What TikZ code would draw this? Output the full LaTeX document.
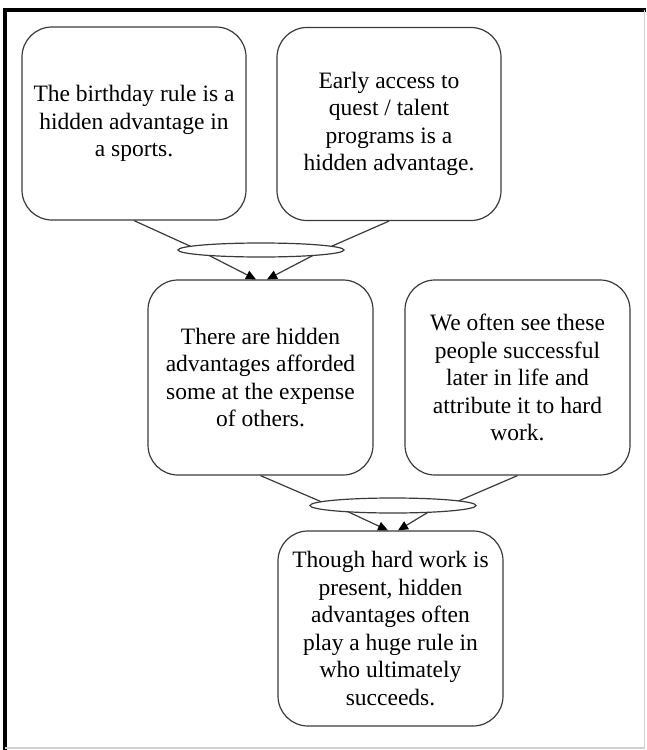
\documentclass[tikz,border=0pt]{standalone}
\usepackage{fontspec}
\setmainfont{Liberation Serif}
\usetikzlibrary{arrows.meta,shapes.geometric,calc}
\definecolor{linegray}{HTML}{3A3A3A}
\definecolor{framegray}{HTML}{D0D0D0}
\begin{document}
\begin{tikzpicture}[x=1pt,y=-1pt,
  card/.style={draw=linegray, line width=1.2pt, rounded corners=30pt,
    minimum width=224pt, minimum height=193pt, align=center, inner sep=0pt,
    font=\fontsize{23.5}{27.5}\selectfont},
  joint/.style={ellipse, draw=linegray, line width=1.2pt, minimum width=166pt,
    minimum height=14pt, inner sep=0pt, outer sep=0pt},
  link/.style={draw=linegray, line width=1.2pt},
  arr/.style={link, -{Triangle[length=10pt,width=9pt,fill=black,color=black]}}]
\useasboundingbox (0,0) rectangle (646,750);
% frame
\draw[line width=4pt, black] (5,750) -- (5,10) -- (646,10);
\draw[framegray, line width=1.2pt] (644.5,10) -- (644.5,748) -- (5,748);
% cards
\node[card] (b1) at (134,123.5) {The birthday rule is a\\hidden advantage in\\a sports.};
\node[card] (b2) at (389,124) {Early access to\\quest / talent\\programs is a\\hidden advantage.};
\node[card, minimum width=225pt, minimum height=195pt] (b3) at (260.5,377.5) {There are hidden\\advantages afforded\\some at the expense\\of others.};
\node[card, minimum width=225pt, minimum height=195pt] (b4) at (517.5,377.5) {We often see these\\people successful\\later in life and\\attribute it to hard\\work.};
\node[card, minimum width=225pt, minimum height=195pt] (b5) at (390.5,628.5) {Though hard work is\\present, hidden\\advantages often\\play a huge rule in\\who ultimately\\succeeds.};
% joints
\node[joint] (e1) at (261,250) {};
\node[joint, minimum height=15pt] (e2) at (393,505.5) {};
% arrow end points
\coordinate (t1l) at ($(e1.center |- b3.north)+(-5,0)$);
\coordinate (t1r) at ($(e1.center |- b3.north)+(6,0)$);
\coordinate (t2l) at ($(e2.center |- b5.north)+(-5,0)$);
\coordinate (t2r) at ($(e2.center |- b5.north)+(5,0)$);
% connectors
\draw[link] (b1.south) -- (e1.177);
\draw[link] (b2.south) -- (e1.3);
\draw[arr] (e1.186) -- (t1l);
\draw[arr] (e1.354) -- (t1r);
\draw[link] (b3.south) -- (e2.177);
\draw[link] (b4.south) -- (e2.4);
\draw[arr] (e2.188) -- (t2l);
\draw[arr] (e2.349) -- (t2r);
\end{tikzpicture}
\end{document}
